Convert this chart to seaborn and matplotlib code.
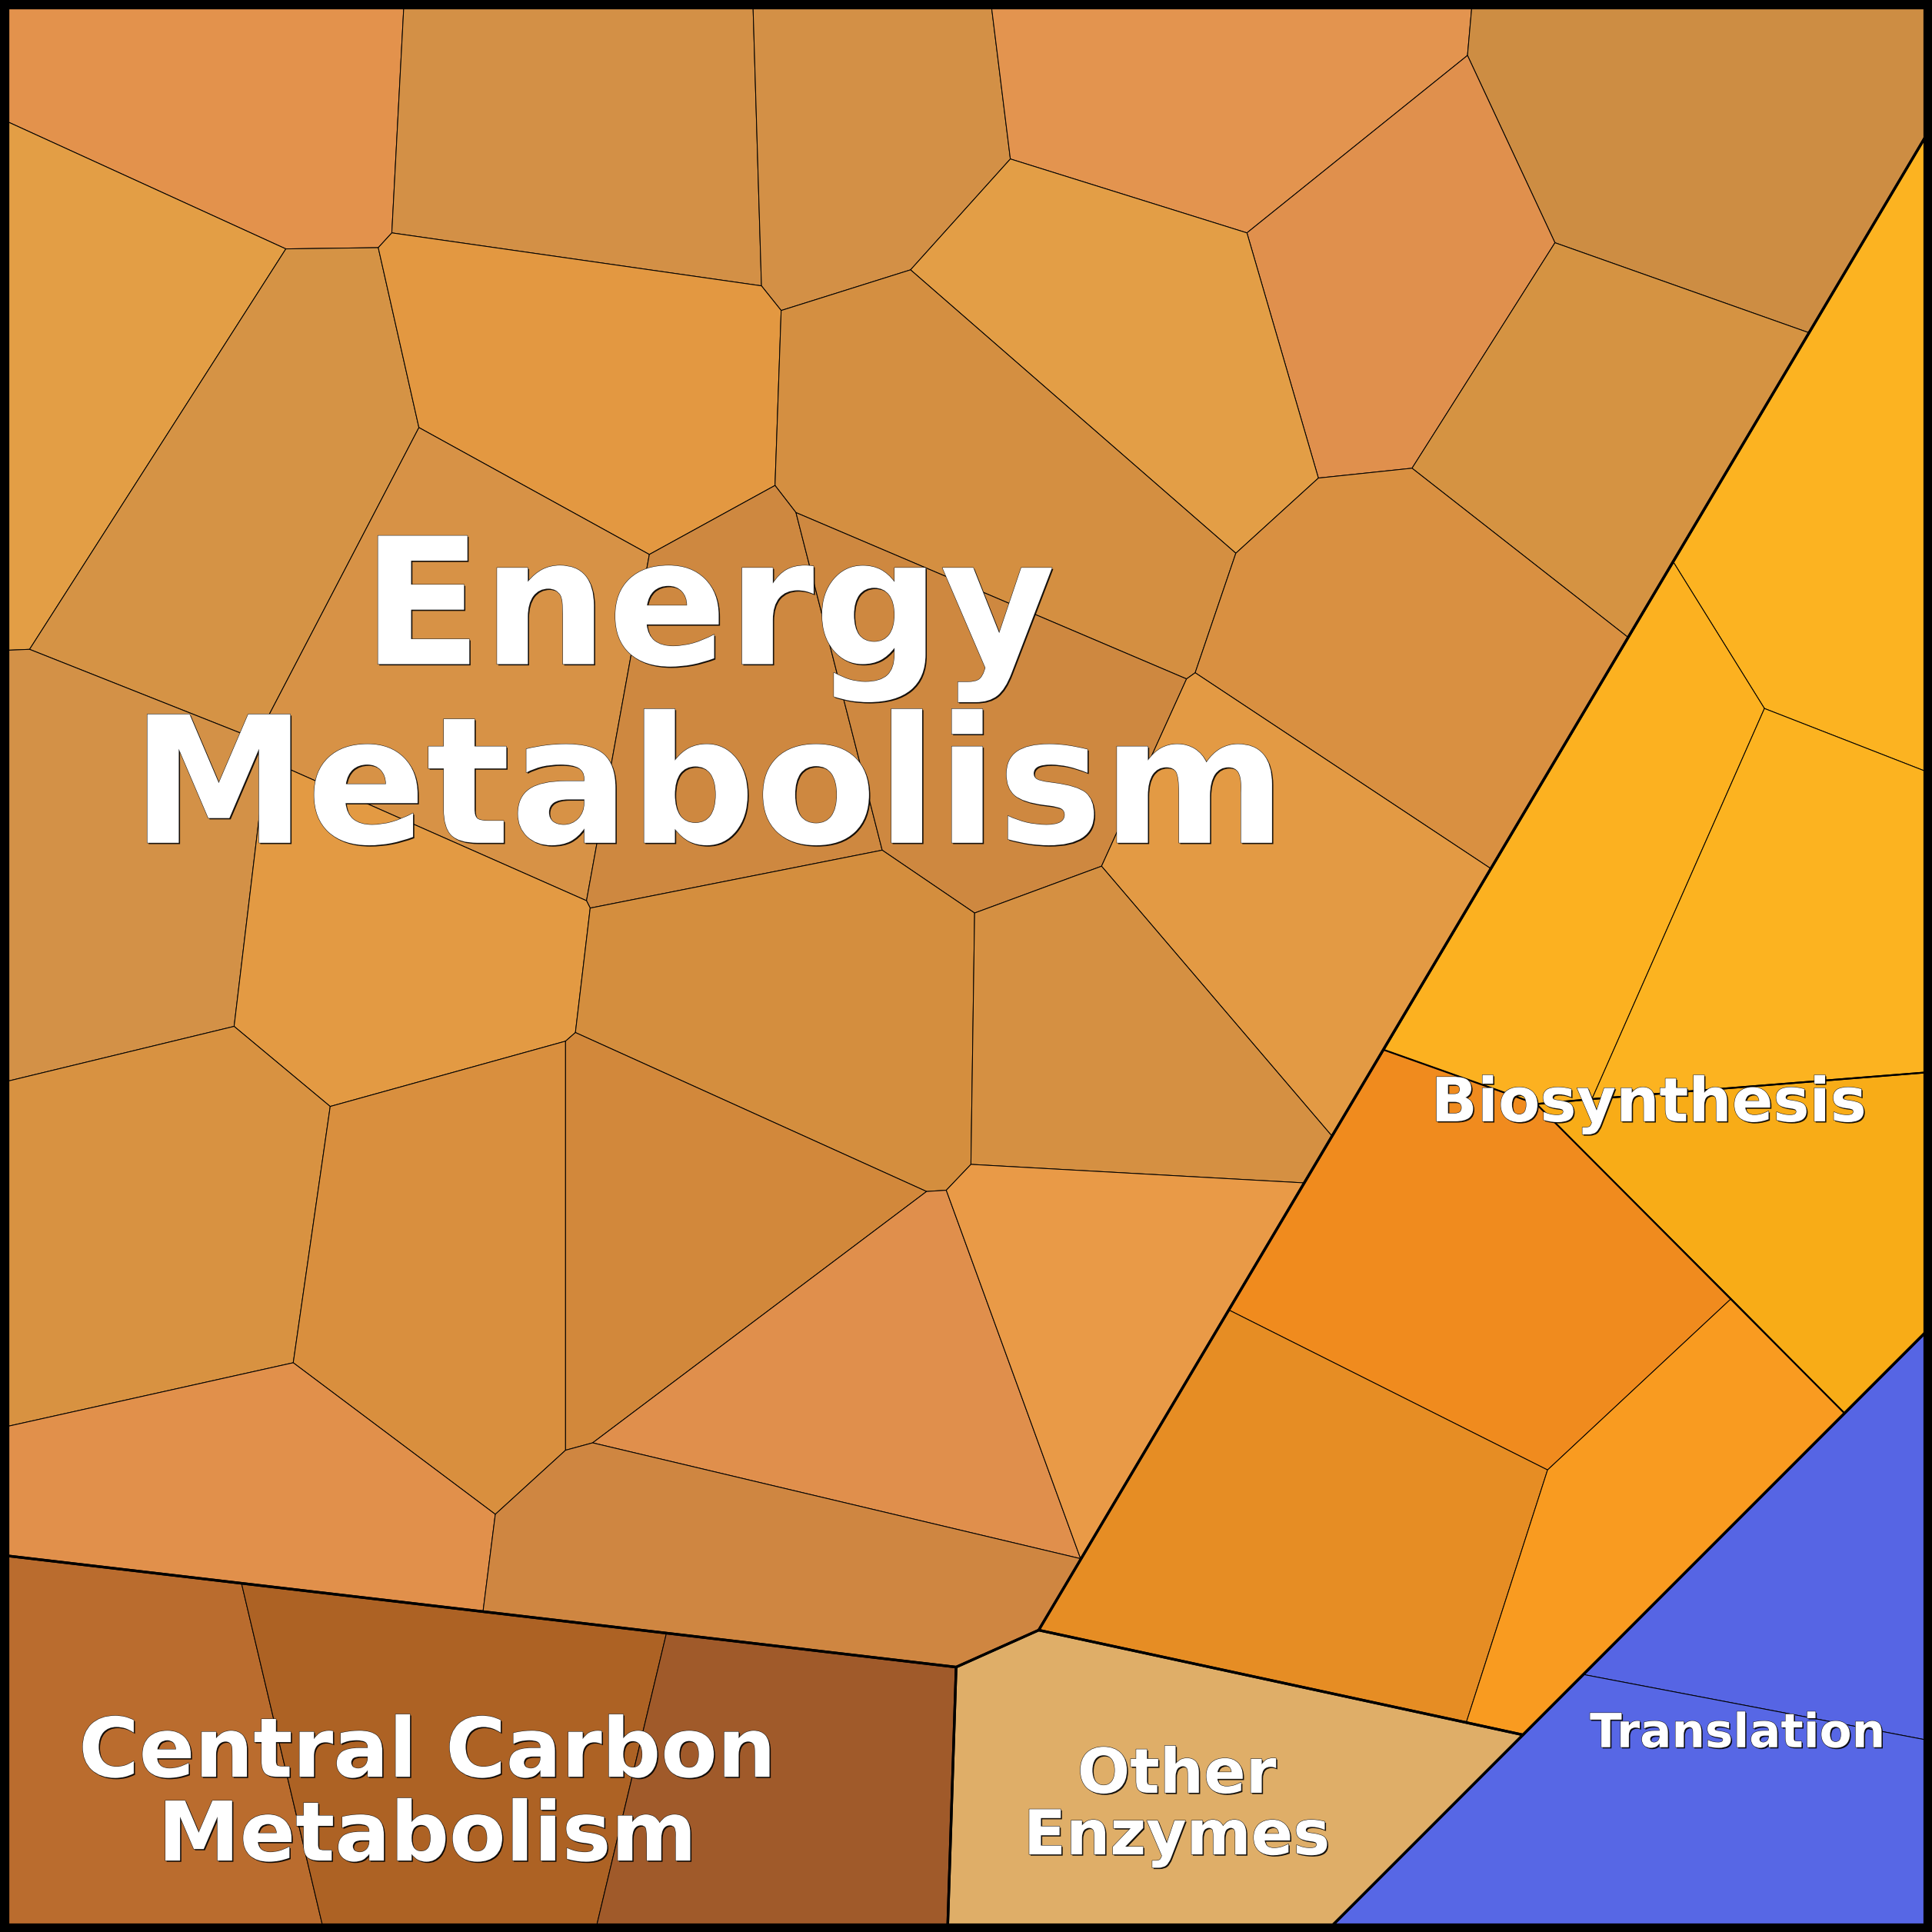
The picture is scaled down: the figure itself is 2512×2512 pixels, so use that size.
import matplotlib
matplotlib.use("Agg")
import matplotlib.pyplot as plt
import matplotlib.patheffects as pe
from matplotlib.patches import Rectangle
import seaborn as sns

# ---------------- data: Voronoi treemap cell geometry (chart units 0..1568) -------------
vertex_ids = ["c00", "t1", "t2", "t3", "t4", "c10", "b0",
              "l1", "l2", "l3", "l4", "l5", "c01",
              "d1", "d2", "d3", "d4", "c11",
              "r1", "r2", "r3", "r4",
              "v1", "v2", "v3", "v4", "v5", "v6", "v7", "v8", "v9", "v10",
              "v11", "v12", "v13", "v14", "v15", "v16", "v17", "v18", "v19",
              "p", "q", "v21", "v21b", "v22", "v23", "v24", "v25a", "v25b",
              "v27", "v28", "v29", "v30", "v31a", "v31b", "v31c", "v32a", "v32b",
              "v33", "v33b", "v34", "v35", "v36a", "v36b", "v37", "v38",
              "e1", "e2", "cc", "oe",
              "bs1", "bs2", "bs4", "bs5", "bs6", "bs8", "bs9", "bs10", "bs11",
              "bs12", "bt", "tr"]
vertex_x = [0, 328, 611, 804, 1195, 1568, 1568,
            0, 0, 0, 0, 0, 0,
            263, 483, 769, 1076, 1568,
            1568, 1568, 1568, 1568,
            232, 307, 318, 618, 634, 739, 820, 1012, 1191, 1262,
            1468, 1146, 1070, 1003, 340, 527, 629, 646, 24,
            208, 216, 476, 479, 716, 791, 894, 963, 970,
            1081, 1210, 1321, 1058, 788, 768, 752, 467, 459,
            190, 268, 238, 402, 459, 481, 877, 392,
            196, 541, 776, 843,
            1358, 1432, 1292, 1247, 1123, 1405, 1497, 1256, 997,
            1190, 1236, 1285]
vertex_y = [0, 0, 0, 0, 0, 0, 102,
            96, 528, 879, 1159, 1262, 1568,
            1568, 1568, 1568, 1568, 1568,
            628, 870, 1076, 1413,
            202, 201, 189, 232, 252, 219, 129, 189, 45, 197,
            270, 380, 388, 449, 347, 450, 394, 416, 527,
            600, 616, 731, 737, 690, 741, 703, 551, 546,
            922, 705, 517, 960, 945, 966, 967, 838, 845,
            833, 898, 1106, 1229, 1177, 1171, 1265, 1308,
            1285, 1325, 1353, 1323,
            456, 575, 892, 896, 852, 1054, 1147, 1193, 1063,
            1398, 1408, 1359]

group_names = ["Energy Metabolism", "Central Carbon Metabolism", "Other Enzymes",
               "Biosynthesis", "Translation"]

cell_group = (["Energy Metabolism"] * 28 + ["Central Carbon Metabolism"] * 3 +
              ["Other Enzymes"] + ["Biosynthesis"] * 7 + ["Translation"] * 2)

cell_vertices = [
    ["c00", "t1", "v3", "v2", "v1", "l1"],
    ["t1", "t2", "v4", "v3"],
    ["t2", "t3", "v7", "v6", "v5", "v4"],
    ["t3", "t4", "v9", "v8", "v7"],
    ["t4", "c10", "b0", "v11", "v10", "v9"],
    ["v9", "v10", "v12", "v13", "v8"],
    ["v10", "v11", "v29", "v12"],
    ["v7", "v8", "v13", "v14", "v6"],
    ["l1", "v1", "v19", "l2"],
    ["v1", "v2", "v15", "p", "v19"],
    ["v3", "v4", "v5", "v17", "v16", "v15", "v2"],
    ["v5", "v6", "v14", "v25b", "v25a", "v18", "v17"],
    ["v15", "v16", "v21", "q", "p"],
    ["v16", "v17", "v18", "v22", "v21b", "v21"],
    ["v18", "v25a", "v24", "v23", "v22"],
    ["v13", "v12", "v29", "v28", "v25b", "v14"],
    ["v25b", "v28", "v27", "v24", "v25a"],
    ["l2", "v19", "p", "q", "v33", "l3"],
    ["q", "v21", "v21b", "v32a", "v32b", "v33b", "v33"],
    ["v21b", "v22", "v23", "v31a", "v31b", "v31c", "v32a"],
    ["v23", "v24", "v27", "v30", "v31a"],
    ["l3", "v33", "v33b", "v34", "l4"],
    ["v33b", "v32b", "v36a", "v35", "v34"],
    ["v32a", "v31c", "v36b", "v36a", "v32b"],
    ["v31c", "v31b", "v37", "v36b"],
    ["v31b", "v31a", "v30", "bs11", "v37"],
    ["l4", "v34", "v35", "v38", "l5"],
    ["v35", "v36a", "v36b", "v37", "oe", "cc", "v38"],
    # Central Carbon Metabolism
    ["l5", "e1", "d1", "c01"],
    ["e1", "e2", "d2", "d1"],
    ["e2", "cc", "d3", "d2"],
    # Other Enzymes
    ["cc", "oe", "bs12", "bt", "d4", "d3"],
    # Biosynthesis
    ["bs1", "b0", "r1", "bs2"],
    ["bs1", "bs2", "bs4", "bs5", "bs6"],
    ["bs2", "r1", "r2", "bs4"],
    ["bs5", "bs4", "r2", "r3", "bs9", "bs8"],
    ["bs6", "bs5", "bs8", "bs10", "bs11"],
    ["bs11", "bs10", "bs12", "oe"],
    ["bs10", "bs8", "bs9", "bt", "bs12"],
    # Translation
    ["tr", "r3", "r4"],
    ["d4", "tr", "r4", "c11"],
]

group_outlines = [
    ["c00", "c10", "b0", "oe", "cc", "l5", "c00"],
    ["l5", "cc", "d3", "c01", "l5"],
    ["cc", "oe", "bs12", "bt", "d4", "d3", "cc"],
    ["b0", "r3", "bt", "bs12", "oe", "b0"],
    ["r3", "c11", "d4", "r3"],
]
subgroup_outlines = [
    ["bs1", "b0", "r2", "bs4", "bs5", "bs6", "bs1"],
    ["bs5", "bs4", "r2", "r3", "bs9", "bs5"],
]

label_lines = [["Energy", "Metabolism"], ["Central Carbon", "Metabolism"],
               ["Other", "Enzymes"], ["Biosynthesis"], ["Translation"]]

# ---------------- styles ----------------
cell_colors = [
    "#E3924C", "#D39046", "#D39046", "#E3944F", "#CD8D43", "#E0904D", "#D59342",
    "#E39E46", "#E39E45", "#D59345", "#E39841", "#D48F41", "#D79246", "#CE8840",
    "#CE8840", "#D99041", "#E39A44", "#D39147", "#E39A43", "#D48E3E", "#D59042",
    "#D89241", "#D98F3E", "#D2883B", "#E08F4C", "#E99A47", "#E1904B", "#CF8641",
    "#BA6C2E", "#AD6224", "#A05A2A",
    "#DFAE68",
    "#FCB321", "#FCB120", "#FCB320", "#F8AC17", "#F08B1E", "#E68D24", "#F99B20",
    "#5665E4", "#5767E5",
]
label_x = [575, 347, 955, 1338, 1410]
label_baselines = [[539, 684], [1442, 1510], [1455, 1505], [910], [1418]]
label_sizes = [165, 77, 58, 57, 44]

sns.set_theme(style="white")
plt.rcParams["font.family"] = ["DejaVu Sans"]

fig = plt.figure(figsize=(25.12, 25.12), dpi=100)
ax = fig.add_axes([0, 0, 1, 1])
ax.set_xlim(0, 1568)
ax.set_ylim(1568, 0)
ax.axis("off")

pos = {k: (x, y) for k, x, y in zip(vertex_ids, vertex_x, vertex_y)}

for verts, col in zip(cell_vertices, cell_colors):
    xs = [pos[v][0] for v in verts]
    ys = [pos[v][1] for v in verts]
    ax.fill(xs, ys, facecolor=col, edgecolor="black", linewidth=0.75, zorder=1)

for outline in subgroup_outlines:
    ax.plot([pos[v][0] for v in outline], [pos[v][1] for v in outline],
            color="black", linewidth=1.6, solid_joinstyle="miter", zorder=2)

for outline in group_outlines:
    ax.plot([pos[v][0] for v in outline], [pos[v][1] for v in outline],
            color="black", linewidth=2.4, solid_joinstyle="miter", zorder=3)

ax.add_patch(Rectangle((3.5, 3.5), 1561, 1561, fill=False, edgecolor="black",
                       linewidth=8.1, zorder=4, joinstyle="miter"))

effects = [pe.SimplePatchShadow(offset=(1.2, -1.2), shadow_rgbFace="black", alpha=0.9),
           pe.withStroke(linewidth=0.8, foreground="#222222")]
for lines, x, ys, fs in zip(label_lines, label_x, label_baselines, label_sizes):
    for line, y in zip(lines, ys):
        ax.text(x, y, line, ha="center", va="baseline", fontsize=fs,
                fontweight="bold", color="white", zorder=5, path_effects=effects)

fig.savefig("out.png", dpi=100)
